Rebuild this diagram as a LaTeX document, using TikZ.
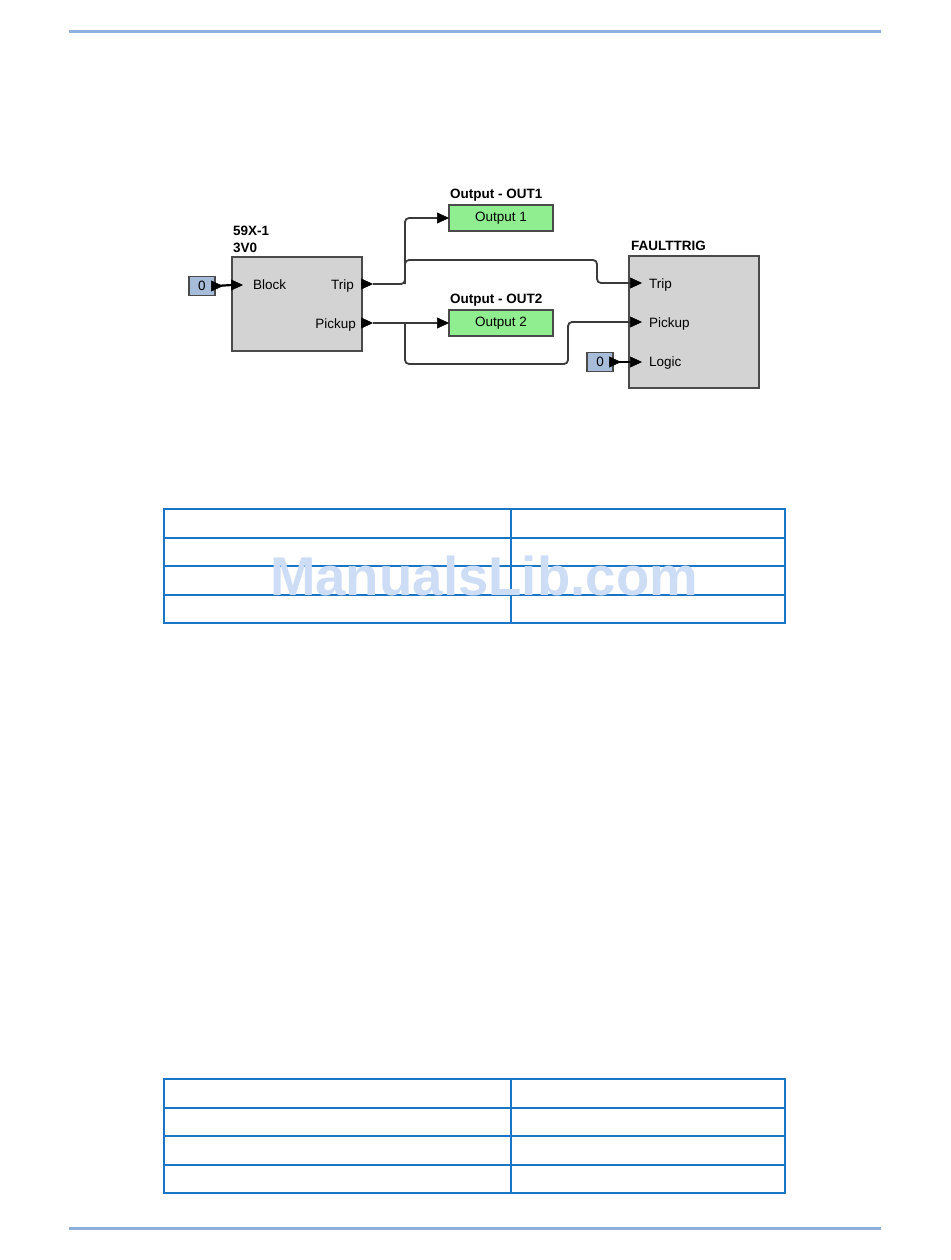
\documentclass[tikz,border=0pt]{standalone}
\usepackage{fontspec}
\setmainfont{Liberation Sans}
\usetikzlibrary{arrows.meta}
\definecolor{rulecol}{HTML}{8DB0DC}
\definecolor{tabcol}{HTML}{1A75C6}
\definecolor{boxfill}{HTML}{D3D3D3}
\definecolor{boxedge}{HTML}{4A4A4A}
\definecolor{constfill}{HTML}{A7BCD9}
\definecolor{outfill}{HTML}{90EE90}
\definecolor{wirecol}{HTML}{3A3A3A}
\definecolor{wmcol}{HTML}{CCDDF5}
\newcommand\dgfont{\fontsize{13.5}{16}\selectfont}
\begin{document}
\begin{tikzpicture}[x=1pt,y=-1pt,
  fblock/.style={draw=boxedge, fill=boxfill, line width=1.8pt, inner sep=0pt},
  constbox/.style={draw=boxedge, fill=constfill, line width=1.3pt, inner sep=0pt,
    minimum width=26pt, minimum height=19pt, font=\dgfont},
  outbox/.style={draw=boxedge, fill=outfill, line width=1.3pt, inner sep=0pt,
    minimum width=104pt, minimum height=26pt, font=\dgfont},
  lbl/.style={inner sep=0pt, font=\dgfont},
  title/.style={inner sep=0pt, font=\dgfont\bfseries, anchor=base west},
  arr/.style={-{Triangle[length=12pt,width=11pt]}},
  wire/.style={draw=wirecol, line width=1.8pt, rounded corners=4pt},
  feed/.style={draw=black, line width=2.2pt},
  rulel/.style={draw=rulecol, line width=3pt},
  tab/.style={draw=tabcol, line width=1.6pt}
]
\useasboundingbox (0,0) rectangle (950,1260);

% page rules
\coordinate (rtl) at (69,32); \coordinate (rtr) at (881,32);
\coordinate (rbl) at (69,1228); \coordinate (rbr) at (881,1228);
\draw[rulel] (rtl) -- (rtr);
\draw[rulel] (rbl) -- (rbr);

% ---------- diagram ----------
% 59X-1 block
\node[fblock, minimum width=130pt, minimum height=94pt] (b59) at (297,304) {};
\node[title] (b59t1) at (233,235) {59X-1};
\node[title] (b59t2) at (233,252) {3V0};
\node[lbl, anchor=base west] (b59lb) at (253,289) {Block};
\node[lbl, anchor=base east] (b59lt) at (354,289) {Trip};
\node[lbl, anchor=base east] (b59lp) at (356,328) {Pickup};
\coordinate (b59blk) at (232,285);
\coordinate (b59blktip) at (243,285);
\coordinate (b59trip) at (362,284);
\coordinate (b59tripo) at (373,284);
\coordinate (b59pick) at (362,323);
\coordinate (b59picko) at (373,323);

% constant input of 59X-1
\node[constbox] (in0) at (202,286) {0};
\coordinate (in0o) at (223,286);

% outputs
\node[outbox] (out1) at (501,218) {Output 1};
\node[title] (out1t) at (450,199) {Output - OUT1};
\node[outbox] (out2) at (501,323) {Output 2};
\node[title] (out2t) at (450,303) {Output - OUT2};
\coordinate (out1in) at (437,218); \coordinate (out1tip) at (449,218);
\coordinate (out2in) at (437,323); \coordinate (out2tip) at (449,323);

% FAULTTRIG block
\node[fblock, minimum width=130pt, minimum height=132pt] (ft) at (694,322) {};
\node[title] (ftt) at (631,250) {FAULTTRIG};
\node[lbl, anchor=base west] (ftlt) at (649,288) {Trip};
\node[lbl, anchor=base west] (ftlp) at (649,327) {Pickup};
\node[lbl, anchor=base west] (ftll) at (649,366) {Logic};
\coordinate (fttrip) at (642,283);
\coordinate (ftpick) at (642,322);
\coordinate (ftlogic) at (642,362);

\node[constbox] (lg0) at (600,362) {0};
\coordinate (lg0o) at (621,362);

% wire bends
\coordinate (j1) at (405,284);
\coordinate (j2) at (405,323);
\coordinate (ftin1) at (630,283);
\coordinate (ftin2) at (630,322);
\coordinate (ftin3) at (630,362);

% connectors
\draw[feed] (in0.east) -- (b59blk);
\draw[arr, line width=0.5pt] (in0.east) -- (in0o);
\draw[arr, line width=0.5pt] (b59blk) -- (b59blktip);
\draw[arr, line width=0.5pt] (b59trip) -- (b59tripo);
\draw[arr, line width=0.5pt] (b59pick) -- (b59picko);

\draw[wire] (b59tripo) -- (j1) |- (out1in);
\draw[wire] (j1) |- (597,260) |- (ftin1);
\draw[wire] (b59picko) -- (out2in);
\draw[wire] (j2) |- (568,364) |- (ftin2);
\draw[feed] (lg0.east) -- (ftin3);

\draw[arr, line width=0.5pt] (out1in) -- (out1tip);
\draw[arr, line width=0.5pt] (out2in) -- (out2tip);
\draw[arr, line width=0.5pt] (ftin1) -- (fttrip);
\draw[arr, line width=0.5pt] (ftin2) -- (ftpick);
\draw[arr, line width=0.5pt] (lg0.east) -- (lg0o);
\draw[arr, line width=0.5pt] (ftin3) -- (ftlogic);

% ---------- tables ----------
\draw[tab] (164,509) rectangle (785,623);
\draw[tab] (511,509) -- (511,623);
\draw[tab] (164,538) -- (785,538);
\draw[tab] (164,566) -- (785,566);
\draw[tab] (164,595) -- (785,595);

\draw[tab] (164,1079) rectangle (785,1193);
\draw[tab] (511,1079) -- (511,1193);
\draw[tab] (164,1108) -- (785,1108);
\draw[tab] (164,1136) -- (785,1136);
\draw[tab] (164,1165) -- (785,1165);

% watermark
\node[inner sep=0pt, anchor=base, text=wmcol, font=\fontsize{54.6}{60}\selectfont\bfseries] (wm) at (484,595) {ManualsLib.com};
\end{tikzpicture}
\end{document}
